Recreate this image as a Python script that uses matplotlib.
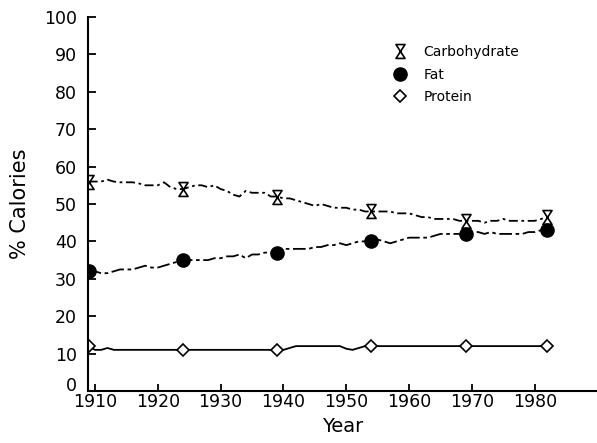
import matplotlib
matplotlib.use("Agg")
import matplotlib.pyplot as plt
from matplotlib.path import Path
from matplotlib.lines import Line2D

years = list(range(1909, 1983))

carbohydrate = [56, 56, 56, 56.5, 56, 55.8, 55.8, 55.8, 55.5, 55, 55, 55, 55.8, 54.5, 54,
                54, 54.5, 55, 55, 54.5, 55, 54, 53.5, 52.5, 52, 53.5, 53, 53, 53, 52,
                52, 51.5, 51.5, 51, 50.5, 50, 49.5, 50, 49.5, 49, 49, 49, 48.5, 48.5, 48,
                48, 48, 48, 48, 47.5, 47.5, 47.5, 47, 46.5, 46.5, 46, 46, 46, 46, 45.5,
                45.5, 45.5, 45.5, 45, 45.5, 45.5, 46, 45.5, 45.5, 45.5, 45.5, 45.5, 46, 46.5]

fat = [32, 32, 31.5, 31.5, 32, 32.5, 32.5, 32.5, 33, 33.5, 33, 33, 33.5, 34, 34.5,
       35, 35, 35, 35, 35, 35.5, 35.5, 36, 36, 36.5, 35.5, 36.5, 36.5, 37, 37,
       37, 38, 38, 38, 38, 38, 38.5, 38.5, 39, 39, 39.5, 39, 39.5, 40, 40,
       40, 40.5, 40, 39.5, 40, 40.5, 41, 41, 41, 41, 41.5, 42, 42, 42, 42,
       42, 42.5, 42.5, 42, 42.5, 42, 42, 42, 42, 42, 42.5, 42.5, 43, 43]

protein = [12, 11, 11, 11.5, 11, 11, 11, 11, 11, 11, 11, 11, 11, 11, 11,
           11, 11, 11, 11, 11, 11, 11, 11, 11, 11, 11, 11, 11, 11, 11,
           11, 11, 11.5, 12, 12, 12, 12, 12, 12, 12, 12, 11.3, 11, 11.5, 12,
           12, 12, 12, 12, 12, 12, 12, 12, 12, 12, 12, 12, 12, 12, 12,
           12, 12, 12, 12, 12, 12, 12, 12, 12, 12, 12, 12, 12, 12]

marker_years = [1909, 1924, 1939, 1954, 1969, 1982]
labels = ["Carbohydrate", "Fat", "Protein"]

# hourglass marker
hourglass = Path([(-0.65, 1), (0.65, 1), (-0.65, -1), (0.65, -1), (-0.65, 1)],
                 [Path.MOVETO, Path.LINETO, Path.LINETO, Path.LINETO, Path.CLOSEPOLY])

mark_idx = [years.index(y) for y in marker_years]

fig = plt.figure(figsize=(5.97, 4.43), dpi=100)
ax = fig.add_axes([0.1474, 0.1174, 0.8526, 0.8442])

ax.plot(years, carbohydrate, color='black', lw=1.3, ls=(0, (5, 2, 1.5, 2)),
        marker=hourglass, markevery=mark_idx, ms=10, mfc='white', mec='black', mew=1.2)
ax.plot(years, fat, color='black', lw=1.3, ls=(0, (7, 2, 2, 2)),
        marker='o', markevery=mark_idx, ms=9.5, mfc='black', mec='black')
ax.plot(years, protein, color='black', lw=1.3, ls='-',
        marker='D', markevery=mark_idx, ms=6.5, mfc='white', mec='black', mew=1.2)

ax.set_xlim(1908.9, 1989.9)
ax.set_ylim(0, 100)
ax.set_xticks(range(1910, 1990, 10))
ax.set_yticks(range(0, 101, 10))

for s in ['top', 'right']:
    ax.spines[s].set_visible(False)
for s in ['left', 'bottom']:
    ax.spines[s].set_linewidth(1.5)

ax.tick_params(axis='both', direction='in', labelsize=12.5, width=1.3, color='black')
ax.tick_params(axis='y', length=6, pad=8)
ax.tick_params(axis='x', length=5, pad=1.5)

# the 0 label sits just above the x axis in the original
ax.get_yticklabels()[0].set_va('baseline')

ax.set_xlabel("Year", fontsize=14, labelpad=4)
ax.set_ylabel("% Calories", fontsize=15, labelpad=10)

handles = [
    Line2D([], [], ls='none', marker=hourglass, ms=10, mfc='white', mec='black', mew=1.2),
    Line2D([], [], ls='none', marker='o', ms=9.5, mfc='black', mec='black'),
    Line2D([], [], ls='none', marker='D', ms=6.5, mfc='white', mec='black', mew=1.2),
]
ax.legend(handles, labels, loc='upper left', bbox_to_anchor=(0.575, 0.958),
          frameon=False, fontsize=10, handlelength=1.0, handletextpad=1.2,
          labelspacing=0.6)

fig.savefig("out.png", dpi=100)
